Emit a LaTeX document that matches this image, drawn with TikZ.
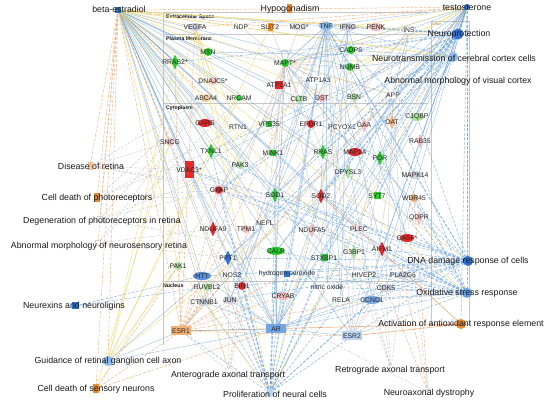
\documentclass[tikz,border=0pt]{standalone}
\usepackage{fontspec}
\setmainfont{Liberation Sans}
\usetikzlibrary{shapes.geometric}
\definecolor{ceb}{RGB}{100,160,228}
\definecolor{ceo}{RGB}{240,165,110}
\definecolor{cey}{RGB}{238,218,120}
\definecolor{ceg}{RGB}{185,185,185}
\definecolor{gG}{RGB}{40,205,40}
\definecolor{gL}{RGB}{170,225,160}
\definecolor{rR}{RGB}{230,40,40}
\definecolor{rP}{RGB}{242,190,190}
\definecolor{bB}{RGB}{45,115,215}
\definecolor{bL}{RGB}{140,185,235}
\definecolor{oO}{RGB}{240,135,40}
\definecolor{oP}{RGB}{245,195,150}
\definecolor{gy}{RGB}{205,210,220}
\newcommand{\mygene}[3]{\node[#2] (#1-s) at (#1) {}; \node[lab] (#1-t) at (#1) {#3};}
\begin{document}
\begin{tikzpicture}[x=1pt,y=-1pt,
  lab/.style={font=\fontsize{6.8}{7}\selectfont, inner sep=0, text=black!85},
  flab/.style={font=\fontsize{8.8}{9}\selectfont, inner sep=0, text=black!90},
  clab/.style={font=\bfseries\fontsize{5.2}{6}\selectfont, inner sep=0, anchor=west},
  comp/.style={draw=black!22, line width=0.5pt},
  eb/.style={draw=ceb, line width=0.45pt, opacity=.6},
  ebd/.style={draw=ceb, line width=0.55pt, opacity=.7, dash pattern=on 3pt off 1.5pt},
  eo/.style={draw=ceo, line width=0.5pt, opacity=.8, dash pattern=on 3pt off 1.5pt},
  eos/.style={draw=ceo, line width=0.6pt, opacity=.9},
  ey/.style={draw=cey, line width=0.5pt, opacity=.8},
  eg/.style={draw=ceg, line width=0.4pt, opacity=.7},
  egd/.style={draw=ceg, line width=0.4pt, opacity=.8, dash pattern=on 2.5pt off 1.5pt},
  dia/.style={diamond, fill=#1, minimum width=7pt, minimum height=15pt, inner sep=0},
  cir/.style={circle, fill=#1, minimum size=8pt, inner sep=0},
  ell/.style={ellipse, fill=#1, minimum width=14pt, minimum height=8pt, inner sep=0},
  sq/.style={rectangle, fill=#1, minimum width=7pt, minimum height=7pt, inner sep=0},
  fcir/.style={circle, fill=#1, minimum size=10pt, inner sep=0},
  faint/.style={circle, draw=black!20, fill=white, minimum size=6pt, inner sep=0}
]
\useasboundingbox (0,0) rectangle (550,403);
\fill[white] (0,0) rectangle (550,403);
% compartments
\draw[comp] (163,12) -- (428,12);
\draw[comp] (163,34) -- (428,34);
\draw[comp] (163,103) -- (428,103);
\draw[comp] (163,281) -- (428,281);
\draw[comp] (163,12) -- (163,345);
\draw[comp] (431,21) rectangle (469,324);
\node[clab] (cx) at (166,17) {Extracellular Space};
\node[clab] (cp) at (166,39) {Plasma Membrane};
\node[clab] (cc) at (166,108) {Cytoplasm};
\node[clab] (cn) at (163,286) {Nucleus};
\node[font=\fontsize{3.5}{4}\selectfont, text=black!60, inner sep=0, anchor=west] (co) at (432,24) {Other};
% coordinates
\coordinate (be) at (118,10);
\coordinate (hypo) at (289,9);
\coordinate (te) at (467,7);
\coordinate (np) at (458,34);
\coordinate (nt) at (453,57);
\coordinate (amv) at (456,80);
\coordinate (dr) at (90,166);
\coordinate (cdp) at (97,198);
\coordinate (dpr) at (100,219);
\coordinate (amr) at (98,243);
\coordinate (nx) at (75,306);
\coordinate (gr) at (108,361);
\coordinate (cds) at (96,389);
\coordinate (at) at (229,372);
\coordinate (pn) at (270,393);
\coordinate (rt) at (391,369);
\coordinate (nd) at (428,392);
\coordinate (ae) at (461,324);
\coordinate (ox) at (467,293);
\coordinate (dna) at (468,261);
\coordinate (vegfa) at (195,27);
\coordinate (ndp) at (241,27);
\coordinate (slit2) at (270,27);
\coordinate (mog) at (299,27);
\coordinate (tnf) at (326,26);
\coordinate (ifng) at (348,27);
\coordinate (penk) at (376,27);
\coordinate (ins) at (409,30);
\coordinate (rras2) at (175,62);
\coordinate (msn) at (208,52);
\coordinate (mapt) at (285,63);
\coordinate (cadps) at (351,50);
\coordinate (numb) at (350,67);
\coordinate (dnajc5) at (213,81);
\coordinate (atp1a1) at (279,85);
\coordinate (atp1a3) at (318,80);
\coordinate (abca4) at (206,98);
\coordinate (nrcam) at (239,98);
\coordinate (cltb) at (299,99);
\coordinate (dst) at (322,98);
\coordinate (bsn) at (354,97);
\coordinate (app) at (393,95);
\coordinate (gars) at (205,123);
\coordinate (rtn1) at (238,127);
\coordinate (vps35) at (269,124);
\coordinate (epdr1) at (311,124);
\coordinate (pcyox1) at (342,127);
\coordinate (gaa) at (364,125);
\coordinate (oat) at (392,122);
\coordinate (c1qbp) at (417,117);
\coordinate (rab35) at (420,141);
\coordinate (sncg) at (170,142);
\coordinate (vdac3) at (189,170);
\coordinate (txnl1) at (211,151);
\coordinate (mink1) at (273,153);
\coordinate (rras) at (323,152);
\coordinate (map1a) at (355,152);
\coordinate (por) at (380,158);
\coordinate (pak3) at (240,165);
\coordinate (dpysl3) at (348,172);
\coordinate (mapk14) at (415,175);
\coordinate (gfap) at (219,190);
\coordinate (sod1) at (275,195);
\coordinate (sod2) at (321,196);
\coordinate (syt7) at (377,196);
\coordinate (wdr45) at (414,198);
\coordinate (qdpr) at (419,218);
\coordinate (ndufa9) at (213,229);
\coordinate (tpm1) at (246,229);
\coordinate (nefl) at (265,223);
\coordinate (ndufa5) at (312,230);
\coordinate (plec) at (359,229);
\coordinate (casf) at (407,238);
\coordinate (aifm1) at (382,249);
\coordinate (calr) at (276,251);
\coordinate (g3bp1) at (354,252);
\coordinate (stxbp1) at (324,258);
\coordinate (ppt1) at (228,258);
\coordinate (pak1) at (178,266);
\coordinate (htt) at (202,276);
\coordinate (nos2) at (232,275);
\coordinate (hp) at (287,274);
\coordinate (hivep2) at (364,275);
\coordinate (pla2g6) at (403,275);
\coordinate (ruvbl2) at (207,287);
\coordinate (bin1) at (242,286);
\coordinate (no) at (327,287);
\coordinate (cdk5) at (386,288);
\coordinate (ctnnb1) at (204,302);
\coordinate (jun) at (230,300);
\coordinate (cryab) at (283,296);
\coordinate (rela) at (341,300);
\coordinate (ccnd1) at (372,300);
\coordinate (esr1) at (181,331);
\coordinate (ar) at (276,329);
\coordinate (esr2) at (352,336);
% ---- edges
\foreach \t in {rras2,mapt,atp1a1,gars,txnl1,vdac3,gfap,sod1,ndufa9,ppt1,htt,ar,esr2,sod2,rras,calr,cltb,msn,numb,ctnnb1,jun,ccnd1,tnf,syt7,stxbp1,por,mink1,dnajc5,bin1,aifm1} \draw[eb] (be) -- (\t);
\foreach \t in {hypo,dr,cdp,dpr,amr,cds,esr1,gr,slit2,abca4,sncg,pn} \draw[eo] (be) -- (\t);
\foreach \t in {vegfa,ndp,ins,np,nt,penk,pak1,at,nefl,pak3,cdk5,ox,dna,app,oat} \draw[ey] (be) -- (\t);
\foreach \t in {np,nt,dna,ox,ae} \draw[ebd] (te) -- (\t);
\foreach \t in {mapt,app,tnf,ins,sod1,sod2,oat,rab35,cdk5,ar,esr2,ccnd1,aifm1,por,gfap,calr,c1qbp,syt7} \draw[eb] (te) -- (\t);
\foreach \t in {hypo,esr1,vegfa,slit2} \draw[eo] (te) -- (\t);
\foreach \t in {mapt,numb,txnl1,ifng,pn} \draw[ey] (te) -- (\t);
\foreach \t in {tnf,mapt,app,sod1,sod2,gfap,ppt1,calr,rras,ifng,ins,oat,txnl1,ar,pn,vdac3,penk,cadps,rras2} \draw[ebd] (np) -- (\t);
\foreach \t in {cadps,syt7,stxbp1,bsn,numb,app,msn,tnf,ppt1} \draw[eb] (nt) -- (\t);
\foreach \t in {mapt,ndp} \draw[ey] (nt) -- (\t);
\foreach \t in {app,mapt,oat} \draw[egd] (amv) -- (\t);
\foreach \t in {sod1,sod2,mapk14,casf,aifm1,ar,jun,rela,ccnd1,tnf,mapt,htt,bin1,vdac3,c1qbp,hp,no,esr2,qdpr,ppt1,gfap} \draw[ebd] (dna) -- (\t);
\foreach \t in {sod1,sod2,pla2g6,cdk5,hp,no,tnf,mapt,app,wdr45,aifm1,txnl1,por,gfap,rela,ccnd1,esr2,vdac3,ar,calr,hivep2} \draw[ebd] (ox) -- (\t);
\foreach \t in {esr1,esr2,sod2} \draw[eos] (ae) -- (\t);
\foreach \t in {ar,esr1,esr2,tnf,mapt,app,sod1,jun,ctnnb1,htt,ppt1,calr,gfap,no,hp,ccnd1,rela,cdk5,nos2,bin1,stxbp1,sod2,txnl1} \draw[ebd] (pn) -- (\t);
\foreach \t in {vegfa,numb,pak1} \draw[ey] (pn) -- (\t);
\foreach \t in {nefl,mapt,htt,ppt1,esr1,tpm1} \draw[egd] (at) -- (\t);
\foreach \t in {mapt,dst,numb,pla2g6,cdk5,hivep2} \draw[egd] (rt) -- (\t);
\foreach \t in {pla2g6,cdk5,wdr45} \draw[eo] (nd) -- (\t);
\foreach \t in {htt,app} \draw[egd] (nd) -- (\t);
\foreach \t in {nrcam,slit2,rras2,dpysl3,pak1,vegfa} \draw[ey] (gr) -- (\t);
\foreach \t in {ppt1,esr1,ar} \draw[eb] (gr) -- (\t);
\foreach \t in {htt,ruvbl2} \draw[ebd] (nx) -- (\t);
\foreach \t in {esr1,ar,pak1} \draw[eo] (cds) -- (\t);
\foreach \t in {gfap,sncg} \draw[ey] (cds) -- (\t);
\foreach \t in {vdac3,sncg,gfap,sod1,abca4} \draw[egd] (dr) -- (\t);
\foreach \t in {abca4,gfap,sod2,txnl1,rtn1} \draw[egd] (cdp) -- (\t);
\foreach \t in {abca4,gfap,pak3,calr} \draw[egd] (dpr) -- (\t);
\foreach \t in {abca4,nrcam,ndufa9,ppt1} \draw[egd] (amr) -- (\t);
\foreach \t in {mapt,sod2,gfap,rela,ccnd1,jun,casf,mapk14,app,no,hp,ar,sod1,aifm1,bin1} \draw[eb] (tnf) -- (\t);
\foreach \t in {sod2,no,rela,jun,casf} \draw[eb] (ifng) -- (\t);
\foreach \t in {mapt,app,sod1,ccnd1,rela,ar,esr1} \draw[eg] (ins) -- (\t);
\foreach \t in {atp1a1,numb,cltb,dst,atp1a3,gfap,sod1,nefl,app,mog,ndp,slit2,tnf,ifng,vps35,mink1,rras,calr,stxbp1,map1a,cadps,msn,bsn} \draw[eg] (mapt) -- (\t);
\foreach \t in {atp1a3,vps35,ndufa9,epdr1,sod1} \draw[eg] (atp1a1) -- (\t);
\foreach \t in {oat,cdk5,esr1,gaa,pla2g6,c1qbp} \draw[eg] (app) -- (\t);
\foreach \t in {gfap,sod1,sod2,calr,ctnnb1,jun,ccnd1,esr1,esr2,rela,htt,ppt1,app,cryab,vdac3} \draw[eb] (ar) -- (\t);
\foreach \t in {ctnnb1,jun,gfap,sod1,ccnd1,esr2,pak1,ppt1,tnf,rras2,cryab,hp,vegfa,mapt} \draw[eo] (esr1) -- (\t);
\foreach \t in {rela,ccnd1,sod2,cdk5,app,tnf,g3bp1} \draw[eg] (esr2) -- (\t);
\foreach \t in {dnajc5,gars,pak3,tpm1,rtn1} \draw[ey] (vegfa) -- (\t);
\draw[eb] (mapt) .. controls +(-12,-17) and +(12,-17) .. (mapt);
% ---- function nodes
\node[sq=bB, minimum size=6pt] (be-s) at (be) {};
\node[flab] (be-t) at (119,9) {beta-estradiol};
\node[sq=oO, minimum width=5pt, minimum height=9pt] (hypo-s) at (hypo) {};
\node[flab] (hypo-t) at (290,9) {Hypogonadism};
\node[cir=bB, minimum size=6pt] (te-s) at (te) {};
\node[flab] (te-t) at (467,8) {testosterone};
\node[fcir=bB, minimum size=11pt] (np-s) at (np) {};
\node[flab] (np-t) at (459,34) {Neuroprotection};
\node[fcir=bL] (nt-s) at (nt) {};
\node[flab] (nt-t) at (454,58) {Neurotransmission of cerebral cortex cells};
\node[sq=white, draw=black!20, minimum size=5pt] (amv-s) at (amv) {};
\node[flab] (amv-t) at (458,81) {Abnormal morphology of visual cortex};
\node[sq=oP, minimum width=5pt, minimum height=8pt] (dr-s) at (dr) {};
\node[flab] (dr-t) at (91,166) {Disease of retina};
\node[sq=oO, minimum width=6pt, minimum height=9pt] (cdp-s) at (cdp) {};
\node[flab] (cdp-t) at (97,198) {Cell death of photoreceptors};
\node[sq=white, draw=black!20, minimum size=5pt] (dpr-s) at (dpr) {};
\node[flab] (dpr-t) at (102,221) {Degeneration of photoreceptors in retina};
\node[sq=white, draw=black!20, minimum size=5pt] (amr-s) at (amr) {};
\node[flab] (amr-t) at (99,246) {Abnormal morphology of neurosensory retina};
\node[sq=bB] (nx-s) at (nx) {};
\node[flab] (nx-t) at (74,306) {Neurexins and neuroligins};
\node[fcir=bL] (gr-s) at (gr) {};
\node[flab] (gr-t) at (108,361) {Guidance of retinal ganglion cell axon};
\node[sq=oO, minimum width=6pt, minimum height=9pt] (cds-s) at (cds) {};
\node[flab] (cds-t) at (96,389) {Cell death of sensory neurons};
\node[faint, minimum size=8pt] (at-s) at (at) {};
\node[flab] (at-t) at (228,375) {Anterograde axonal transport};
\node[fcir=bL!60, minimum size=8pt] (pn-s) at (pn) {};
\node[flab] (pn-t) at (275,394) {Proliferation of neural cells};
\node[faint, minimum size=8pt] (rt-s) at (rt) {};
\node[flab] (rt-t) at (390,370) {Retrograde axonal transport};
\node[sq=white, draw=black!20, minimum size=5pt] (nd-s) at (nd) {};
\node[flab] (nd-t) at (429,393) {Neuroaxonal dystrophy};
\node[fcir=oO] (ae-s) at (ae) {};
\node[flab] (ae-t) at (461,324) {Activation of antioxidant response element};
\node[fcir=ceb] (ox-s) at (ox) {};
\node[flab] (ox-t) at (467,293) {Oxidative stress response};
\node[fcir=bB] (dna-s) at (dna) {};
\node[flab] (dna-t) at (468,261) {DNA damage response of cells};
% ---- gene nodes
\mygene{vegfa}{ell=gy}{VEGFA}
\mygene{ndp}{ell=white}{NDP}
\mygene{slit2}{sq=oO, minimum width=5pt, minimum height=8pt}{SLIT2}
\mygene{mog}{ell=black!10}{MOG*}
\mygene{tnf}{ell=bL}{TNF}
\mygene{ifng}{ell=gy}{IFNG}
\mygene{penk}{ell=rP}{PENK}
\mygene{ins}{ell=white, draw=black!30}{INS}
\mygene{rras2}{dia=gG}{RRAS2*}
\mygene{msn}{cir=gG}{MSN}
\mygene{mapt}{cir=gG}{MAPT*}
\mygene{cadps}{cir=gG}{CADPS}
\mygene{numb}{cir=gG}{NUMB}
\mygene{dnajc5}{cir=rP}{DNAJC5*}
\mygene{atp1a1}{sq=rR, minimum size=8pt}{ATP1A1}
\mygene{atp1a3}{cir=white}{ATP1A3}
\mygene{abca4}{cir=oP}{ABCA4}
\mygene{nrcam}{cir=gG, minimum size=6pt}{NRCAM}
\mygene{cltb}{cir=gL}{CLTB}
\mygene{dst}{cir=rP}{DST}
\mygene{bsn}{cir=gL}{BSN}
\mygene{app}{cir=white}{APP}
\mygene{gars}{ell=rR}{GARS}
\mygene{rtn1}{cir=white}{RTN1}
\mygene{vps35}{sq=gG, minimum size=6pt}{VPS35}
\mygene{epdr1}{cir=rR}{EPDR1}
\mygene{pcyox1}{cir=white}{PCYOX1}
\mygene{gaa}{dia=rP}{GAA}
\mygene{oat}{dia=oP!80!oO}{OAT}
\mygene{c1qbp}{ell=gL}{C1QBP}
\mygene{rab35}{dia=rP}{RAB35}
\mygene{sncg}{cir=rP}{SNCG}
\node[sq=rR, minimum width=9pt, minimum height=17pt] (vdac3-s) at (vdac3) {};
\node[lab] (vdac3-t) at (189,170) {VDAC3*};
\mygene{txnl1}{dia=gG}{TXNL1}
\mygene{mink1}{sq=gG, minimum size=6pt}{MINK1}
\mygene{rras}{dia=gG}{RRAS}
\mygene{map1a}{ell=rR}{MAP1A}
\mygene{por}{dia=gG}{POR}
\mygene{pak3}{cir=gL}{PAK3}
\mygene{dpysl3}{dia=gL}{DPYSL3}
\mygene{mapk14}{ell=gy}{MAPK14}
\node[cir=rR!85!black, minimum size=9pt, draw=rP, line width=1.5pt] (gfap-s) at (gfap) {};
\node[lab] (gfap-t) at (gfap) {GFAP};
\mygene{sod1}{dia=gG}{SOD1}
\mygene{sod2}{dia=rR}{SOD2}
\mygene{syt7}{sq=gG}{SYT7}
\mygene{wdr45}{cir=oP!60!oO}{WDR45}
\mygene{qdpr}{dia=rP}{QDPR}
\mygene{ndufa9}{dia=rR}{NDUFA9}
\mygene{tpm1}{cir=rP}{TPM1}
\mygene{nefl}{cir=white}{NEFL}
\mygene{ndufa5}{dia=rP}{NDUFA5}
\mygene{plec}{cir=rP!50}{PLEC}
\mygene{casf}{ell=rR}{CASF*}
\mygene{aifm1}{dia=rR}{AIFM1}
\mygene{calr}{ell=gG, minimum width=17pt}{CALR}
\mygene{g3bp1}{dia=gL}{G3BP1}
\mygene{stxbp1}{sq=gG}{STXBP1}
\mygene{ppt1}{dia=bB}{PPT1}
\mygene{pak1}{cir=gL}{PAK1}
\mygene{htt}{ell=bB!80, minimum width=18pt}{HTT}
\mygene{nos2}{cir=white}{NOS2}
\node[sq=bB, minimum size=6pt] (hp-s) at (hp) {};
\node[lab] (hp-t) at (hp) {hydrogen peroxide};
\mygene{hivep2}{cir=white}{HIVEP2}
\mygene{pla2g6}{ell=gy}{PLA2G6}
\mygene{ruvbl2}{cir=gL}{RUVBL2}
\mygene{bin1}{cir=rR}{BIN1}
\mygene{no}{cir=white}{nitric oxide}
\mygene{cdk5}{ell=gy}{CDK5}
\mygene{ctnnb1}{ell=gy}{CTNNB1}
\mygene{jun}{ell=gy}{JUN}
\mygene{cryab}{ell=rP}{CRYAB}
\mygene{rela}{cir=white}{RELA}
\mygene{ccnd1}{ell=bL!80!bB, minimum width=18pt}{CCND1}
\mygene{esr1}{sq=oP!70!oO, minimum width=20pt, minimum height=9pt}{ESR1}
\mygene{ar}{sq=bL!70!bB, minimum width=20pt, minimum height=9pt}{AR}
\mygene{esr2}{sq=bL!60, minimum width=20pt, minimum height=9pt}{ESR2}
\end{tikzpicture}
\end{document}
